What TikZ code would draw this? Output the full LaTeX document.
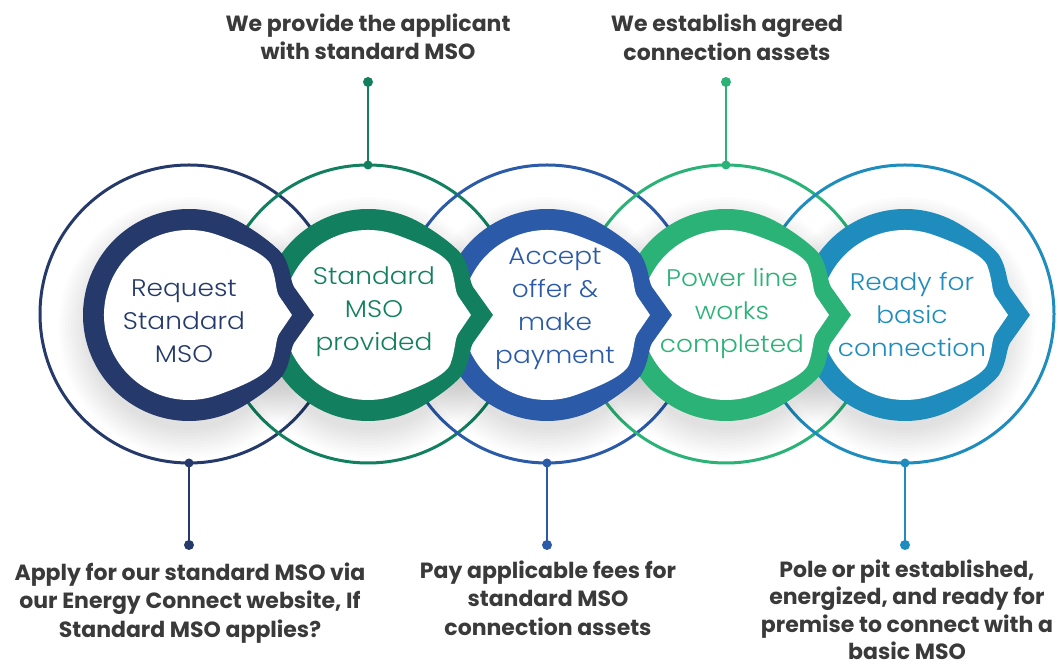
\documentclass[tikz,border=0pt]{standalone}
\usepackage{fontspec}
\setmainfont{Poppins}
\newfontfamily\ringfont[FakeStretch=1.1]{Poppins Light}
\definecolor{cA}{HTML}{253A6B}
\definecolor{cB}{HTML}{12805F}
\definecolor{cC}{HTML}{2A5AA8}
\definecolor{cD}{HTML}{2BB277}
\definecolor{cE}{HTML}{1F8CBE}
\definecolor{labgray}{HTML}{3A3A3A}
\newcommand\RingOuter[1]{\fill[#1] (125,0) -- (105,28) .. controls (101,35) and (102,47) .. (94,60)
  .. controls (86.5,70) and (66,84.3) .. (60:106)
  arc[start angle=60, end angle=300, radius=106]
  .. controls (66,-84.3) and (86.5,-70) .. (94,-60)
  .. controls (102,-47) and (101,-35) .. (105,-28) -- cycle;}
\newcommand\RingInner{\fill[white] (103,0) -- (90,19) .. controls (86.5,25) and (87.5,36) .. (82,50)
  .. controls (76,62) and (48,73) .. (70:85)
  arc[start angle=70, end angle=290, radius=85]
  .. controls (48,-73) and (76,-62) .. (82,-50)
  .. controls (87.5,-36) and (86.5,-25) .. (90,-19) -- cycle;}
\newcommand\RingClip{\clip (103,0) -- (90,19) .. controls (86.5,25) and (87.5,36) .. (82,50)
  .. controls (76,62) and (48,73) .. (70:85)
  arc[start angle=70, end angle=290, radius=85]
  .. controls (48,-73) and (76,-62) .. (82,-50)
  .. controls (87.5,-36) and (86.5,-25) .. (90,-19) -- cycle;}
\begin{document}
\begin{tikzpicture}[x=1pt,y=1pt,
  thinring/.style={line width=3pt},
  conn/.style={line width=2.5pt},
  ringtext/.style={align=center,inner sep=0pt,font=\ringfont\fontsize{24}{33}\selectfont},
  lab/.style={align=center,inner sep=0pt,font=\fontsize{22}{28.5}\selectfont\bfseries,text=labgray}]
\useasboundingbox (0,0) rectangle (1058,666);
% thin outer circles
\foreach \cx/\col/\n in {189/cA/1,368/cB/2,547/cC/3,726/cD/4,905/cE/5}{
  \draw[thinring,\col] (\cx,352) circle[radius=149];
  \coordinate (t\n) at (\cx,501);
  \coordinate (b\n) at (\cx,203);
}
% soft shadows
\foreach \cx in {189,368,547,726,905}{
  \foreach \k in {1,...,10}{
    \fill[black,opacity=0.012] (\cx,339) circle[radius=100+3*\k];
  }
}
% rings, drawn right to left
\foreach \cx/\col/\dx/\dy/\txt/\n in {
  905/cE/7/0/{Ready for\\basic\\connection}/5,
  726/cD/6/1/{Power line\\works\\completed}/4,
  547/cC/8/6.5/{Accept\\offer \&\\make\\payment}/3,
  368/cB/6/3/{Standard\\MSO\\provided}/2,
  189/cA/-5/-6/{Request\\Standard\\MSO}/1}{
  \begin{scope}[shift={(\cx,351)}]
    \RingOuter{\col}
    \RingInner
    \begin{scope}
      \RingClip
      \node[ringtext,text=\col] (r\n) at (\dx,\dy) {\txt};
    \end{scope}
  \end{scope}
}
% connectors and labels
\coordinate (d1) at (189,121);
\coordinate (d2) at (368,584);
\coordinate (d3) at (547,121);
\coordinate (d4) at (726,584);
\coordinate (d5) at (905,121);
\foreach \n/\col in {1/cA,3/cC,5/cE}{
  \draw[conn,\col] (b\n) -- (d\n);
  \fill[\col] (b\n) circle[radius=4.5];
  \fill[\col] (d\n) circle[radius=5];
}
\foreach \n/\col in {2/cB,4/cD}{
  \draw[conn,\col] (t\n) -- (d\n);
  \fill[\col] (t\n) circle[radius=4.5];
  \fill[\col] (d\n) circle[radius=5];
}
\node[lab] (l2) at (368,629) {We provide the applicant\\with standard MSO};
\node[lab] (l4) at (727,628.5) {We establish agreed\\connection assets};
\node[lab] (l1) at (190,63) {Apply for our standard MSO via\\our Energy Connect website, If\\Standard MSO applies?};
\node[lab] (l3) at (548,68) {Pay applicable fees for\\standard MSO\\connection assets};
\node[lab,font=\fontsize{22}{27.5}\selectfont\bfseries] (l5) at (907,56) {Pole or pit established,\\energized, and ready for\\premise to connect with a\\basic MSO};
\end{tikzpicture}
\end{document}
